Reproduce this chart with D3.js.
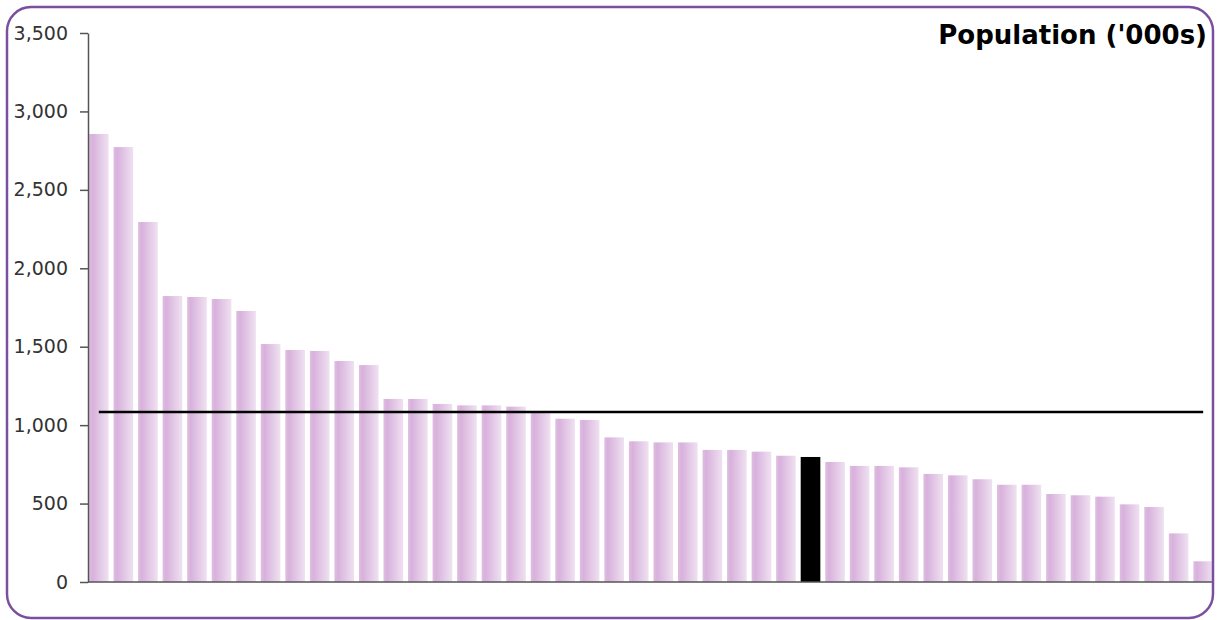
<!DOCTYPE html>
<html>
<head>
<meta charset="utf-8">
<script src="https://cdn.jsdelivr.net/npm/d3@7"></script>
<style>
  html, body { margin: 0; padding: 0; background: #fff; }
  svg { display: block; }
</style>
</head>
<body>
<svg id="chart" width="1224" height="620"></svg>
<script>
// ---- data ----
const categories = d3.range(1, 47).map(i => "Area " + i);
const population = [
  2856, 2773, 2295, 1823, 1817, 1804, 1728, 1517, 1479, 1473, 1409, 1383,
  1167, 1167, 1135, 1126, 1126, 1118, 1077, 1041, 1033,
  922, 897, 890, 890, 842, 842, 831, 805, 797,
  765, 740, 740, 731, 689, 680, 655, 620, 620, 561, 553, 544, 495, 478, 310, 132
];
const highlighted = ["Area 30"];
const averageValue = [1083];
const yTicks = [0, 500, 1000, 1500, 2000, 2500, 3000, 3500];
const title = "Population ('000s)";

// ---- layout ----
const svg = d3.select("#chart");

const defs = svg.append("defs");
const grad = defs.append("linearGradient").attr("id", "barGrad")
  .attr("x1", "0%").attr("x2", "100%").attr("y1", "0%").attr("y2", "0%");
grad.append("stop").attr("offset", "0%").attr("stop-color", "#dfbfe2");
grad.append("stop").attr("offset", "18%").attr("stop-color", "#d8b1dc");
grad.append("stop").attr("offset", "100%").attr("stop-color", "#efe1f1");

const x = d3.scaleBand()
  .domain(categories)
  .range([89, 1213])
  .paddingInner(0.2)
  .paddingOuter(0);

const y = d3.scaleLinear()
  .domain([0, 3500])
  .range([582, 33]);

const data = categories.map((c, i) => ({ c, v: population[i] }));

// bars
svg.append("g").selectAll("rect")
  .data(data)
  .join("rect")
  .attr("x", d => x(d.c))
  .attr("y", d => y(d.v))
  .attr("width", x.bandwidth())
  .attr("height", d => y(0) - y(d.v))
  .attr("fill", d => highlighted.includes(d.c) ? "#000" : "url(#barGrad)");

// average line
svg.append("line")
  .attr("x1", x(categories[0]) + x.bandwidth() / 2)
  .attr("x2", x(categories[categories.length - 1]) + x.bandwidth() / 2)
  .attr("y1", y(averageValue[0]))
  .attr("y2", y(averageValue[0]))
  .attr("stroke", "#000")
  .attr("stroke-width", 2.5);

// y axis
const yAxis = d3.axisLeft(y)
  .tickValues(yTicks)
  .tickFormat(d3.format(","))
  .tickSizeInner(8)
  .tickSizeOuter(0)
  .tickPadding(12);
const gy = svg.append("g").attr("transform", "translate(88,0)").call(yAxis);
gy.select(".domain").attr("stroke", "#555").attr("stroke-width", 1.5);
gy.selectAll(".tick line").attr("stroke", "#555").attr("stroke-width", 1.5);
gy.selectAll(".tick text")
  .attr("fill", "#333")
  .style("font-family", "'DejaVu Sans', Verdana, sans-serif")
  .style("font-size", "19px");

// x axis line
svg.append("line")
  .attr("x1", 88).attr("x2", 1213)
  .attr("y1", y(0)).attr("y2", y(0))
  .attr("stroke", "#555").attr("stroke-width", 1.5);

// title
svg.append("text")
  .attr("x", 1207).attr("y", 44)
  .attr("text-anchor", "end")
  .style("font-family", "'DejaVu Sans', Verdana, sans-serif")
  .style("font-weight", "bold")
  .style("font-size", "26px")
  .attr("fill", "#000")
  .text(title);

// frame
svg.append("rect")
  .attr("x", 7).attr("y", 7)
  .attr("width", 1206).attr("height", 611)
  .attr("rx", 24).attr("ry", 24)
  .attr("fill", "none")
  .attr("stroke", "#7b4f9f")
  .attr("stroke-width", 2.5);
</script>
</body>
</html>
